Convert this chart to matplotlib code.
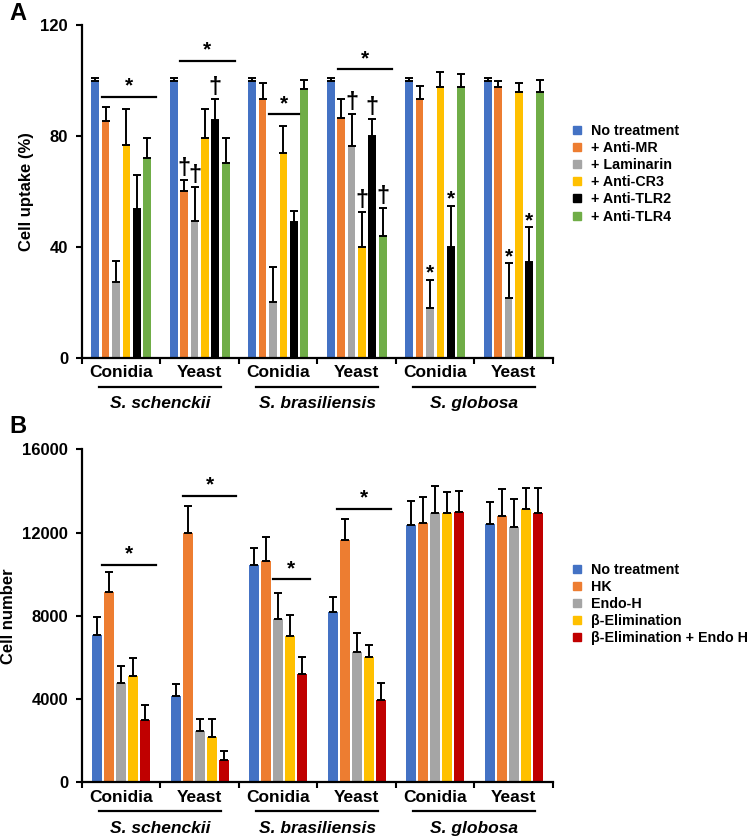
##
## === DEPENDENCIES
##

import matplotlib

matplotlib.use("Agg")
import matplotlib.pyplot as plt
import numpy
from matplotlib.lines import Line2D
from matplotlib.transforms import blended_transform_factory

##
## === DATA
##

species_names = ["S. schenckii", "S. brasiliensis", "S. globosa"]
morphotypes = ["Conidia", "Yeast", "Conidia", "Yeast", "Conidia", "Yeast"]

# panel A: cell uptake (%), one list per treatment, one value per group
uptake_labels = [
    "No treatment",
    "+ Anti-MR",
    "+ Laminarin",
    "+ Anti-CR3",
    "+ Anti-TLR2",
    "+ Anti-TLR4",
]
uptake_colors = ["#4472C4", "#ED7D31", "#A5A5A5", "#FFC000", "#000000", "#70AD47"]
uptake_means = [
    [100.0, 100.0, 100.0, 100.0, 100.0, 100.0],
    [85.5, 60.3, 93.3, 86.4, 93.2, 97.5],
    [27.3, 49.4, 20.2, 76.5, 17.9, 21.5],
    [76.8, 79.2, 73.9, 39.9, 97.8, 95.9],
    [53.8, 85.8, 49.0, 80.0, 39.9, 34.7],
    [72.0, 70.2, 96.8, 43.8, 97.8, 95.9],
]
uptake_errors = [
    [1.0, 1.0, 1.0, 1.0, 1.0, 1.0],
    [5.0, 3.9, 5.7, 6.8, 4.8, 2.4],
    [7.7, 12.3, 12.7, 11.6, 10.2, 12.6],
    [13.0, 10.5, 9.8, 12.6, 5.2, 3.1],
    [12.2, 7.4, 4.0, 6.0, 15.0, 12.4],
    [7.4, 9.2, 3.4, 10.1, 4.4, 4.3],
]
# (group, treatment) pairs marked with a dagger / star above the error bar
uptake_daggers = [(1, 1), (1, 2), (1, 4), (3, 2), (3, 3), (3, 4), (3, 5)]
uptake_stars = [(4, 2), (4, 4), (5, 2), (5, 4)]
# comparison brackets: (x start, x end, height)
uptake_brackets = [
    (-0.245, 0.447, 94.2),
    (0.748, 1.449, 107.1),
    (1.882, 2.268, 87.8),
    (2.765, 3.449, 104.0),
]

# panel B: cell number
number_labels = [
    "No treatment",
    "HK",
    "Endo-H",
    "\u03b2-Elimination",
    "\u03b2-Elimination + Endo H",
]
number_colors = ["#4472C4", "#ED7D31", "#A5A5A5", "#FFC000", "#C00000"]
number_means = [
    [7080, 4150, 10440, 8170, 12380, 12430],
    [9150, 12000, 10650, 11640, 12480, 12780],
    [4790, 2470, 7850, 6250, 12940, 12270],
    [5110, 2190, 7030, 6040, 12940, 13120],
    [2980, 1070, 5190, 3960, 12990, 12940],
]
number_errors = [
    [870, 560, 830, 720, 1150, 1040],
    [930, 1280, 1120, 990, 1220, 1300],
    [800, 580, 1230, 900, 1300, 1330],
    [880, 850, 1010, 560, 1010, 1040],
    [720, 430, 830, 830, 1010, 1220],
]
number_brackets = [
    (-0.245, 0.447, 10440),
    (0.783, 1.466, 13760),
    (1.929, 2.404, 9750),
    (2.744, 3.431, 13120),
]

##
## === STYLE
##

plt.rcParams["font.family"] = ["Liberation Sans", "DejaVu Sans"]
plt.rcParams["font.weight"] = "bold"


##
## === HELPERS
##


def _draw_panel(
    ax,
    means,
    errors,
    colors,
    labels,
    bar_step: float,
    bar_width: float,
    y_max: float,
    y_ticks,
    y_label: str,
    y_label_x: float,
    brackets,
    legend_anchor,
):
    n_groups = len(morphotypes)
    n_bars = len(means)
    group_x = numpy.arange(n_groups)
    offsets = (numpy.arange(n_bars) - (n_bars - 1) / 2) * bar_step
    err_tops = {}
    for i_bar in range(n_bars):
        x_values = group_x + offsets[i_bar]
        ax.bar(
            x_values,
            means[i_bar],
            width=bar_width,
            color=colors[i_bar],
            zorder=2,
        )
        ax.errorbar(
            x_values,
            means[i_bar],
            yerr=[numpy.zeros(n_groups), errors[i_bar]],
            fmt="none",
            ecolor="black",
            elinewidth=1.4,
            capsize=2.6,
            capthick=1.4,
            zorder=3,
        )
        for i_group in range(n_groups):
            err_tops[(i_group, i_bar)] = (
                x_values[i_group],
                means[i_bar][i_group] + errors[i_bar][i_group],
            )
    ## axes styling
    ax.set_xlim(-0.5, n_groups - 0.5)
    ax.set_ylim(0, y_max)
    ax.set_yticks(y_ticks)
    ax.set_yticklabels([f"{v:g}" for v in y_ticks], fontsize=12, fontweight="bold")
    ax.set_xticks(numpy.arange(n_groups + 1) - 0.5)
    ax.set_xticklabels([])
    ax.tick_params(axis="both", direction="out", length=4, width=1.5, pad=6)
    for side in ["top", "right"]:
        ax.spines[side].set_visible(False)
    for side in ["left", "bottom"]:
        ax.spines[side].set_linewidth(1.6)
    ax.text(
        y_label_x, 0.5, y_label,
        transform=ax.transAxes, rotation=90, ha="center", va="center",
        fontsize=12, fontweight="bold",
    )
    ## category and species labels below the axis
    trans = blended_transform_factory(ax.transData, ax.transAxes)
    for i_group, name in enumerate(morphotypes):
        ax.text(
            i_group, -0.045, name,
            transform=trans, ha="center", va="center",
            fontsize=12.5, fontweight="bold",
        )
    for i_species, name in enumerate(species_names):
        center = 2 * i_species + 0.5
        ax.add_line(Line2D(
            [center - 0.777, center + 0.777], [-0.087, -0.087],
            transform=trans, color="black", linewidth=1.6, clip_on=False,
        ))
        ax.text(
            center, -0.138, name,
            transform=trans, ha="center", va="center",
            fontsize=12.5, fontweight="bold", style="italic",
        )
    ## significance brackets
    for x_start, x_end, height in brackets:
        ax.plot([x_start, x_end], [height, height], color="black", linewidth=1.6, clip_on=False)
        ax.annotate(
            "*", xy=((x_start + x_end) / 2, height),
            xytext=(0, 1), textcoords="offset points",
            ha="center", va="bottom", fontsize=15, fontweight="bold",
        )
    ## legend
    handles = [
        Line2D([], [], marker="s", linestyle="none", markersize=6,
               markerfacecolor=c, markeredgecolor=c)
        for c in colors
    ]
    ax.legend(
        handles, labels,
        loc="center left",
        bbox_to_anchor=legend_anchor,
        bbox_transform=ax.figure.transFigure,
        frameon=False,
        borderpad=0,
        borderaxespad=0,
        handlelength=0.8,
        handletextpad=0.6,
        labelspacing=0.22,
        prop={"weight": "bold", "size": 10.3},
    )
    return err_tops


##
## === MAIN
##


def main() -> None:
    fig = plt.figure(figsize=(7.5, 8.39), dpi=100)
    ax_a = fig.add_axes([0.1093, 0.5733, 0.628, 0.3969])
    ax_b = fig.add_axes([0.1093, 0.0676, 0.628, 0.3969])

    tops_a = _draw_panel(
        ax_a, uptake_means, uptake_errors, uptake_colors, uptake_labels,
        bar_step=0.133, bar_width=0.10, y_max=120, y_ticks=[0, 40, 80, 120],
        y_label="Cell uptake (%)", y_label_x=-0.117, brackets=uptake_brackets,
        legend_anchor=(571 / 750, 0.793),
    )
    for key in uptake_daggers:
        x_val, y_val = tops_a[key]
        ax_a.annotate(
            "\u2020", xy=(x_val, y_val), xytext=(0, 0), textcoords="offset points",
            ha="center", va="bottom", fontsize=17, fontweight="bold",
        )
    for key in uptake_stars:
        x_val, y_val = tops_a[key]
        ax_a.annotate(
            "*", xy=(x_val, y_val), xytext=(0, -2), textcoords="offset points",
            ha="center", va="bottom", fontsize=15, fontweight="bold",
        )

    _draw_panel(
        ax_b, number_means, number_errors, number_colors, number_labels,
        bar_step=0.153, bar_width=0.123, y_max=16000,
        y_ticks=[0, 4000, 8000, 12000, 16000],
        y_label="Cell number", y_label_x=-0.155, brackets=number_brackets,
        legend_anchor=(571 / 750, 0.2803),
    )

    fig.text(17.5 / 750, 1 - 13.5 / 839, "A", ha="center", va="center", fontsize=17, fontweight="bold")
    fig.text(17.5 / 750, 1 - 426.5 / 839, "B", ha="center", va="center", fontsize=17, fontweight="bold")

    fig.savefig("out.png", dpi=100)


if __name__ == "__main__":
    main()
